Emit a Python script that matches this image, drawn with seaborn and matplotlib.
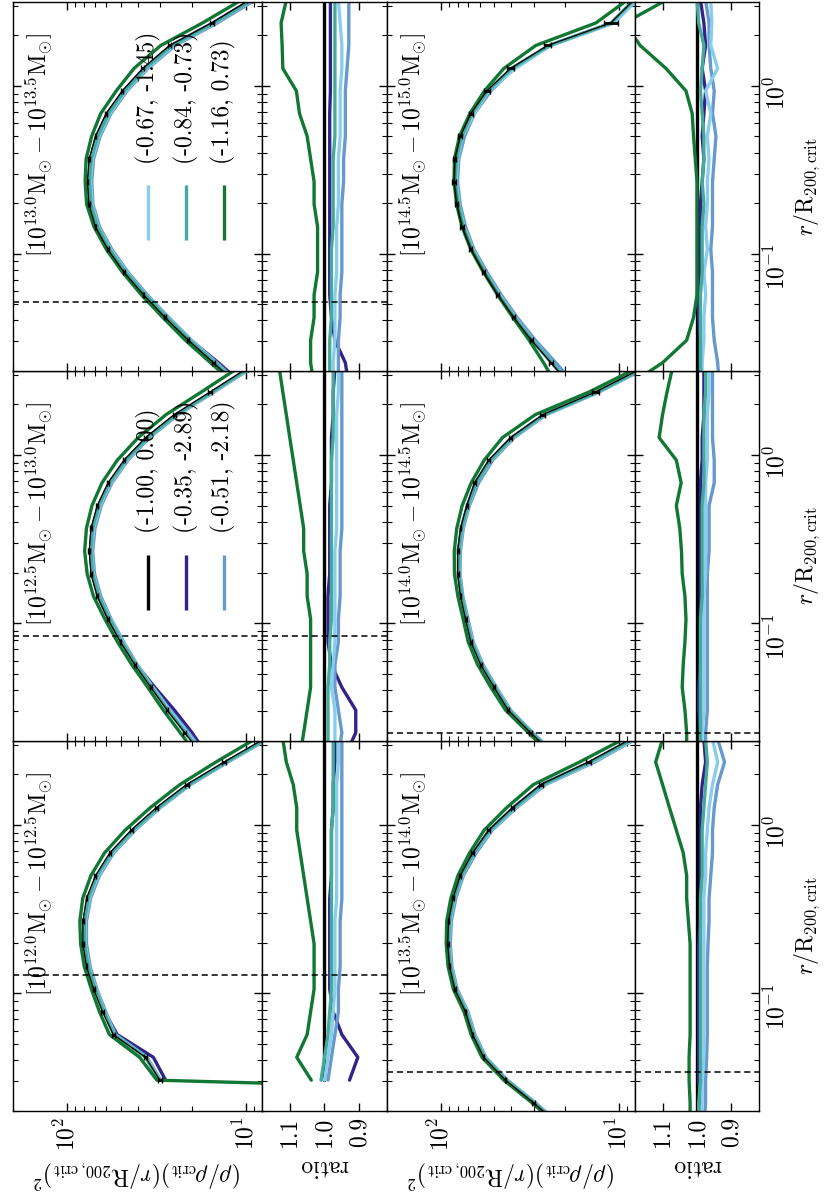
import numpy as np
import pandas as pd
import matplotlib
matplotlib.use("Agg")
import matplotlib.pyplot as plt
import seaborn as sns
from matplotlib.ticker import LogLocator, NullFormatter, NullLocator

nan = np.nan

# ---------------- data ----------------
R_BINS = [0.0164, 0.0224, 0.0305, 0.0417, 0.0569, 0.0776, 0.106, 0.145, 0.197,
          0.269, 0.367, 0.501, 0.684, 0.933, 1.27, 1.74, 2.37, 3.24]

MASS_LO = ["12.0", "12.5", "13.0", "13.5", "14.0", "14.5"]
MASS_HI = ["12.5", "13.0", "13.5", "14.0", "14.5", "15.0"]

R_CONV = [0.128, 0.0837, 0.0518, 0.0339, 0.0224, 0.0145]

# reference model (-1.00, 0.00): (rho/rho_crit)(r/R200)^2
BLACK = [
    [nan, nan, 30.2, 36.3, 55.0, 63.1, 70.8, 77.6, 81.3, 81.3, 77.6, 69.2, 57.5, 43.7, 31.6, 21.4, 13.2, 7.94],
    [17.4, 21.9, 27.5, 33.9, 41.7, 50.1, 58.9, 67.6, 73.3, 75.0, 73.3, 67.6, 58.9, 47.9, 36.3, 25.1, 15.8, 10.0],
    [11.0, 15.1, 20.9, 28.2, 37.2, 47.9, 58.9, 69.2, 75.2, 76.7, 75.0, 69.2, 60.3, 49.0, 37.6, 26.6, 15.5, 9.55],
    [21.4, 30.1, 43.2, 57.3, 66.1, 72.4, 83.2, 89.1, 91.2, 90.2, 85.1, 77.6, 66.1, 53.7, 39.4, 27.4, 14.8, 8.57],
    [22.9, 31.2, 41.7, 50.1, 59.6, 67.6, 72.4, 77.3, 80.2, 80.2, 77.3, 71.4, 64.4, 53.7, 40.5, 26.7, 13.5, 7.59],
    [18.6, 24.0, 30.9, 38.9, 47.9, 57.5, 67.6, 75.9, 81.3, 84.1, 83.2, 77.6, 67.6, 55.0, 40.5, 25.1, 11.1, 8.24],
]

BLACK_ERR = [
    [nan, nan, 0.03, 0.025, 0.02, 0.015, 0.012, 0.012, 0.012, 0.012, 0.012, 0.012, 0.015, 0.018, 0.02, 0.025, 0.03, 0.035],
    [0.02, 0.02, 0.015, 0.012, 0.01, 0.01, 0.01, 0.01, 0.01, 0.01, 0.01, 0.01, 0.012, 0.015, 0.018, 0.02, 0.025, 0.03],
    [0.015, 0.015, 0.012, 0.01, 0.01, 0.01, 0.01, 0.01, 0.01, 0.01, 0.01, 0.01, 0.012, 0.015, 0.018, 0.02, 0.025, 0.03],
    [0.015, 0.015, 0.012, 0.01, 0.01, 0.01, 0.01, 0.01, 0.01, 0.01, 0.01, 0.012, 0.015, 0.018, 0.02, 0.025, 0.03, 0.04],
    [0.02, 0.02, 0.015, 0.012, 0.012, 0.012, 0.012, 0.012, 0.012, 0.012, 0.012, 0.015, 0.018, 0.02, 0.025, 0.03, 0.04, 0.05],
    [0.03, 0.03, 0.025, 0.02, 0.02, 0.02, 0.02, 0.02, 0.02, 0.02, 0.02, 0.025, 0.03, 0.035, 0.04, 0.05, 0.09, 0.09],
]

RATIO_INDIGO = [
    [nan, nan, 0.928, 0.904, 0.95, 0.975, 0.985, 0.985, 0.985, 0.985, 0.985, 0.98, 0.98, 0.98, 0.975, 0.975, 0.97, 0.97],
    [0.94, 0.91, 0.91, 0.95, 0.98, 0.99, 0.99, 0.99, 0.985, 0.985, 0.985, 0.985, 0.98, 0.98, 0.98, 0.975, 0.975, 0.97],
    [0.93, 0.94, 0.97, 0.98, 0.985, 0.985, 0.985, 0.985, 0.985, 0.985, 0.985, 0.985, 0.985, 0.983, 0.983, 0.983, 0.983, 0.983],
    [0.99, 0.99, 0.995, 0.995, 0.995, 0.995, 0.995, 0.995, 0.995, 0.99, 0.99, 0.99, 0.99, 0.99, 0.99, 0.985, 0.975, 0.98],
    [0.99, 0.99, 0.995, 0.995, 0.99, 0.99, 0.99, 0.99, 0.99, 0.99, 0.99, 0.99, 0.99, 0.985, 0.985, 0.98, 0.98, 0.98],
    [0.99, 0.99, 0.99, 0.995, 0.995, 0.99, 0.99, 0.99, 0.99, 0.985, 0.98, 0.985, 0.98, 0.975, 0.985, 0.975, 0.98, 0.99],
]
RATIO_BLUE = [
    [nan, nan, 0.99, 0.98, 0.97, 0.96, 0.96, 0.955, 0.955, 0.955, 0.95, 0.95, 0.95, 0.95, 0.95, 0.95, 0.95, 0.95],
    [0.96, 0.95, 0.96, 0.97, 0.97, 0.96, 0.96, 0.955, 0.955, 0.955, 0.95, 0.95, 0.95, 0.95, 0.95, 0.95, 0.95, 0.95],
    [0.96, 0.96, 0.96, 0.955, 0.955, 0.95, 0.95, 0.95, 0.95, 0.945, 0.945, 0.94, 0.94, 0.94, 0.935, 0.93, 0.93, 0.93],
    [0.98, 0.975, 0.975, 0.972, 0.97, 0.97, 0.97, 0.97, 0.968, 0.965, 0.965, 0.96, 0.955, 0.955, 0.95, 0.94, 0.92, 0.94],
    [0.975, 0.975, 0.97, 0.97, 0.97, 0.97, 0.97, 0.97, 0.97, 0.965, 0.965, 0.965, 0.95, 0.95, 0.955, 0.955, 0.955, 0.955],
    [0.935, 0.94, 0.95, 0.955, 0.955, 0.955, 0.96, 0.955, 0.955, 0.955, 0.95, 0.945, 0.955, 0.95, 0.96, 0.965, 0.965, 0.975],
]
RATIO_CYAN = [
    [nan, nan, 1.0, 0.99, 0.98, 0.975, 0.97, 0.97, 0.97, 0.97, 0.965, 0.965, 0.965, 0.965, 0.965, 0.965, 0.96, 0.96],
    [0.97, 0.97, 0.97, 0.98, 0.975, 0.97, 0.97, 0.97, 0.97, 0.97, 0.965, 0.965, 0.965, 0.965, 0.965, 0.965, 0.96, 0.96],
    [0.975, 0.975, 0.97, 0.97, 0.97, 0.965, 0.965, 0.965, 0.96, 0.96, 0.96, 0.955, 0.955, 0.955, 0.95, 0.95, 0.955, 0.96],
    [0.99, 0.985, 0.985, 0.98, 0.98, 0.98, 0.98, 0.98, 0.98, 0.98, 0.98, 0.975, 0.975, 0.97, 0.965, 0.955, 0.94, 0.955],
    [0.985, 0.985, 0.98, 0.98, 0.98, 0.98, 0.98, 0.98, 0.975, 0.975, 0.975, 0.975, 0.975, 0.97, 0.97, 0.97, 0.965, 0.965],
    [0.985, 0.985, 0.98, 0.98, 0.975, 0.98, 0.97, 0.975, 0.97, 0.97, 0.965, 0.97, 0.96, 0.975, 0.94, 0.96, 0.957, 0.96],
]
RATIO_TEAL = [
    [nan, nan, 1.01, 1.0, 0.99, 0.985, 0.98, 0.98, 0.98, 0.98, 0.98, 0.98, 0.98, 0.98, 0.975, 0.975, 0.975, 0.975],
    [0.99, 0.99, 0.99, 0.99, 0.985, 0.985, 0.98, 0.98, 0.98, 0.98, 0.98, 0.98, 0.98, 0.98, 0.975, 0.975, 0.975, 0.975],
    [0.985, 0.985, 0.985, 0.98, 0.98, 0.98, 0.98, 0.975, 0.975, 0.975, 0.975, 0.97, 0.97, 0.97, 0.97, 0.97, 0.97, 0.97],
    [0.995, 0.995, 0.99, 0.99, 0.99, 0.99, 0.99, 0.99, 0.99, 0.99, 0.99, 0.985, 0.985, 0.985, 0.98, 0.975, 0.97, 0.975],
    [0.99, 0.99, 0.99, 0.99, 0.99, 0.99, 0.99, 0.985, 0.985, 0.985, 0.985, 0.985, 0.98, 0.98, 0.98, 0.98, 0.975, 0.975],
    [0.99, 0.99, 0.99, 0.99, 0.99, 0.985, 0.985, 0.985, 0.98, 0.985, 0.98, 0.98, 0.985, 0.99, 0.985, 0.98, 0.995, 1.0],
]
RATIO_GREEN = [
    [nan, nan, 1.038, 1.08, 1.05, 1.04, 1.03, 1.03, 1.03, 1.04, 1.05, 1.06, 1.07, 1.08, 1.08, 1.09, 1.11, 1.12],
    [1.07, 1.06, 1.05, 1.04, 1.04, 1.04, 1.04, 1.05, 1.05, 1.06, 1.06, 1.07, 1.08, 1.09, 1.10, 1.11, 1.12, 1.13],
    [1.03, 1.04, 1.04, 1.03, 1.03, 1.02, 1.02, 1.02, 1.03, 1.03, 1.04, 1.05, 1.072, 1.081, 1.12, 1.122, 1.125, 1.11],
    [1.02, 1.02, 1.023, 1.023, 1.02, 1.02, 1.02, 1.02, 1.02, 1.025, 1.03, 1.03, 1.04, 1.06, 1.08, 1.10, 1.12, 1.10],
    [1.03, 1.03, 1.035, 1.043, 1.04, 1.035, 1.032, 1.035, 1.043, 1.045, 1.05, 1.06, 1.046, 1.06, 1.11, 1.10, 1.087, 1.072],
    [1.20, 1.10, 1.03, 1.01, 1.00, 1.00, 1.00, 1.00, 1.00, 1.00, 1.005, 1.01, 1.014, 1.032, 1.09, 1.165, 1.21, 1.09],
]
# the (-1.16, 0.73) profile of the lowest mass bin drops to ~0 in the innermost bin
GREEN_INNER_DROP = {0: (1, 0.001)}

MODEL_KEYS = ["(-0.35, -2.89)", "(-0.51, -2.18)", "(-0.67, -1.45)", "(-0.84, -0.73)", "(-1.16, 0.73)"]
REF_LABEL = "(-1.00, 0.00)"
PALETTE = {"(-0.35, -2.89)": "#332288", "(-0.51, -2.18)": "#6699CC", "(-0.67, -1.45)": "#88CCEE",
           "(-0.84, -0.73)": "#44AA99", "(-1.16, 0.73)": "#117733"}
RATIOS = [RATIO_INDIGO, RATIO_BLUE, RATIO_CYAN, RATIO_TEAL, RATIO_GREEN]

LEGEND_ENTRIES = {1: [REF_LABEL, "(-0.35, -2.89)", "(-0.51, -2.18)"],
                  2: ["(-0.67, -1.45)", "(-0.84, -0.73)", "(-1.16, 0.73)"]}

# ---------------- style ----------------
sns.set_theme(style="ticks")
plt.rcParams.update({
    "font.family": ["cmr10", "DejaVu Serif"],
    "mathtext.fontset": "cm",
    "axes.unicode_minus": False,
    "axes.formatter.use_mathtext": True,
    "axes.linewidth": 1.0,
    "axes.edgecolor": "black",
    "xtick.color": "black",
    "ytick.color": "black",
    "text.color": "black",
    "axes.labelcolor": "black",
    "font.size": 17,
})
FS = 17
LW = 2.4

W, H = 827, 1203
fig = plt.figure(figsize=(W / 100, H / 100), dpi=100)


def px_rect(x0, x1, y0, y1):
    return [x0 / W, 1 - y1 / H, (x1 - x0) / W, (y1 - y0) / H]


COLS = {"A": ((13, 262), (262, 387)), "B": ((387, 635), (635, 759))}
ROWS = {"top": (2, 371), "mid": (371, 741), "bot": (741, 1111)}
PANEL_POS = [("A", "bot"), ("A", "mid"), ("A", "top"), ("B", "bot"), ("B", "mid"), ("B", "top")]

YLABEL = r"$(\rho/\rho_{\mathrm{crit}})(r/\mathrm{R}_{200,\mathrm{crit}})^2$"
XLABEL = r"$r/\mathrm{R}_{200,\mathrm{crit}}$"


def style_axes(ax, labels_bottom, labels_right):
    ax.set_yscale("log")
    ax.set_ylim(0.02, 3.16)
    ax.yaxis.set_major_locator(LogLocator(base=10))
    ax.yaxis.set_minor_locator(LogLocator(base=10, subs=np.arange(2, 10)))
    ax.yaxis.set_minor_formatter(NullFormatter())
    ax.tick_params(which="both", direction="in", top=True, bottom=True, left=True, right=True,
                   labelleft=False, labeltop=False, labelbottom=labels_bottom,
                   labelright=labels_right)
    ax.tick_params(which="major", length=6, width=1.0)
    ax.tick_params(which="minor", length=3.5, width=0.8)
    ax.tick_params(axis="x", labelrotation=90, labelsize=FS, pad=4)
    ax.tick_params(axis="y", labelrotation=90, labelsize=FS, pad=4)
    for s in ax.spines.values():
        s.set_linewidth(1.0)
        s.set_color("black")


r = np.array(R_BINS)
for i in range(6):
    half, row = PANEL_POS[i]
    (mx0, mx1), (rx0, rx1) = COLS[half]
    y0, y1 = ROWS[row]
    bottom_row = row == "bot"
    axm = fig.add_axes(px_rect(mx0, mx1, y0, y1))
    axr = fig.add_axes(px_rect(rx0, rx1, y0, y1))

    black = np.array(BLACK[i])
    main_rows, ratio_rows = [], []
    for key, rat in zip(MODEL_KEYS, RATIOS):
        ratio = np.array(rat[i])
        val = black * ratio
        if key == "(-1.16, 0.73)" and i in GREEN_INNER_DROP:
            k, v = GREEN_INNER_DROP[i]
            val[k] = v
        for rr, vv, qq in zip(r, val, ratio):
            main_rows.append({"model": key, "r": rr, "value": vv})
            ratio_rows.append({"model": key, "r": rr, "ratio": qq})
    dfm = pd.DataFrame(main_rows).dropna()
    dfr = pd.DataFrame(ratio_rows).dropna()

    axm.set_xscale("log")
    axm.set_yscale("log")

    # ---- main panel
    sns.lineplot(data=dfm, x="value", y="r", hue="model", hue_order=MODEL_KEYS, palette=PALETTE,
                 orient="y", sort=True, estimator=None, legend=False, lw=LW, ax=axm)
    ok = ~np.isnan(black)
    sns.lineplot(x=black[ok], y=r[ok], orient="y", sort=True, estimator=None, color="black",
                 lw=0.9, ax=axm)
    err = black * np.array(BLACK_ERR[i])
    axm.errorbar(black[ok], r[ok], xerr=err[ok], fmt="none", ecolor="black", elinewidth=2.0,
                 capsize=2.5, capthick=1.0, zorder=6)
    axm.axhline(R_CONV[i], color="black", ls=(0, (4, 2.5)), lw=1.1, zorder=7)

    axm.set_xlim(200, 8.1)
    axm.xaxis.set_major_locator(LogLocator(base=10))
    axm.xaxis.set_minor_locator(LogLocator(base=10, subs=np.arange(2, 10)))
    axm.xaxis.set_minor_formatter(NullFormatter())
    style_axes(axm, bottom_row, False)
    axm.set_ylabel("")
    if bottom_row:
        axm.set_xlabel(YLABEL, rotation=180, fontsize=FS, labelpad=6)
    else:
        axm.set_xlabel("")

    title = (r"$[10^{%s}\mathrm{M}_{\odot}-10^{%s}\mathrm{M}_{\odot}]$" % (MASS_LO[i], MASS_HI[i]))
    axm.text(0.105, 0.31, title, rotation=90, ha="center", va="bottom", fontsize=FS,
             transform=axm.transAxes)

    if i in LEGEND_ENTRIES:
        for j, lab in enumerate(LEGEND_ENTRIES[i]):
            xf = [0.542, 0.695, 0.847][j]
            col = "black" if lab == REF_LABEL else PALETTE[lab]
            axm.plot([xf, xf], [0.354, 0.503], transform=axm.transAxes, color=col,
                     lw=LW, solid_capstyle="butt")
            axm.text(xf, 0.562, lab, rotation=90, ha="center", va="bottom", fontsize=FS,
                     transform=axm.transAxes)

    # ---- ratio panel
    ref_ratio = black / black
    sns.lineplot(x=ref_ratio[ok], y=r[ok], orient="y", sort=True, estimator=None, color="black",
                 lw=LW, ax=axr)
    sns.lineplot(data=dfr, x="ratio", y="r", hue="model", hue_order=MODEL_KEYS, palette=PALETTE,
                 orient="y", sort=True, estimator=None, legend=False, lw=LW, ax=axr)
    axr.axhline(R_CONV[i], color="black", ls=(0, (4, 2.5)), lw=1.1, zorder=7)
    axr.set_xlim(1.18, 0.82)
    axr.set_xticks([1.1, 1.0, 0.9])
    axr.set_xticklabels(["1.1", "1.0", "0.9"])
    axr.xaxis.set_minor_locator(NullLocator())
    style_axes(axr, bottom_row, half == "B")
    if bottom_row:
        axr.set_xlabel("ratio", rotation=180, fontsize=FS, labelpad=6)
    else:
        axr.set_xlabel("")
    if half == "B":
        axr.yaxis.set_label_position("right")
        axr.set_ylabel(XLABEL, rotation=90, fontsize=FS, labelpad=2)
    else:
        axr.set_ylabel("")

fig.savefig("out.png", dpi=100)
